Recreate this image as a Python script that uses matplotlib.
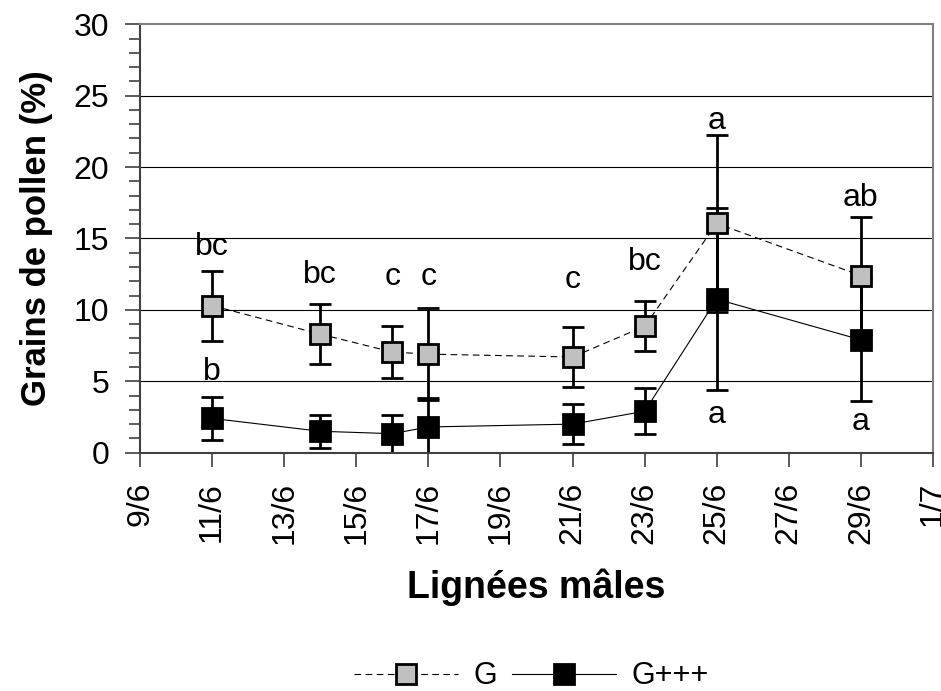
import pandas as pd
import numpy as np
import matplotlib
matplotlib.use('Agg')
import matplotlib.pyplot as plt
import matplotlib.dates as mdates
from matplotlib.ticker import MultipleLocator, FuncFormatter

plt.rcParams['font.family'] = ['Liberation Sans', 'DejaVu Sans']

# dates of the male lines (day/month)
dates = ['2003-06-11', '2003-06-14', '2003-06-16', '2003-06-17',
         '2003-06-21', '2003-06-23', '2003-06-25', '2003-06-29']
g_mean = [10.3, 8.3, 7.05, 6.9, 6.7, 8.85, 16.05, 12.4]
g_err = [2.45, 2.1, 1.8, 3.2, 2.1, 1.75, 6.2, 4.1]
gppp_mean = [2.4, 1.5, 1.33, 1.8, 2.0, 2.9, 10.75, 7.9]
gppp_err = [1.5, 1.15, 1.33, 2.0, 1.4, 1.6, 6.35, 4.3]

# significance letters
g_letters = ['bc', 'bc', 'c', 'c', 'c', 'bc', 'a', 'ab']
g_letter_y = [13.85, 11.85, 11.75, 11.75, 11.5, 12.8, 22.7, 17.3]
gppp_letters = ['b', '', '', '', '', '', 'a', 'a']
gppp_letter_y = [5.1, 0, 0, 0, 0, 0, 2.05, 1.6]

x_start = '2003-06-09'
x_end = '2003-07-01'

x = pd.to_datetime(dates)

fig = plt.figure(figsize=(9.41, 6.91), dpi=100)
ax = fig.add_axes([0.1488, 0.3449, 0.8427, 0.620])

# grid lines
for yv in [5, 10, 15, 20, 25]:
    ax.axhline(yv, color='black', lw=0.8, zorder=0)

ax.errorbar(x, g_mean, yerr=g_err, fmt='s', ls=(0, (6, 4)), color='black', lw=0.8,
            mfc='#c0c0c0', mec='black', mew=2, ms=14, ecolor='black',
            elinewidth=2, capsize=8, capthick=2, label='G', zorder=3)
ax.errorbar(x, gppp_mean, yerr=gppp_err, fmt='s', ls='-', color='black', lw=0.8,
            mfc='black', mec='black', mew=2, ms=14, ecolor='black',
            elinewidth=2, capsize=8, capthick=2, label='G+++', zorder=2)

for xi, t, yv in zip(x, g_letters, g_letter_y):
    ax.text(xi, yv, t, ha='center', va='baseline', fontsize=23)
for xi, t, yv in zip(x, gppp_letters, gppp_letter_y):
    if t:
        ax.text(xi, yv, t, ha='center', va='baseline', fontsize=23)

ax.set_ylim(0, 30)
ax.set_xlim(pd.Timestamp(x_start), pd.Timestamp(x_end))
ax.yaxis.set_major_locator(MultipleLocator(5))
ax.yaxis.set_minor_locator(MultipleLocator(1))
ax.xaxis.set_major_locator(mdates.DayLocator(bymonthday=[9, 11, 13, 15, 17, 19, 21, 23, 25, 27, 29, 1]))
ax.xaxis.set_major_formatter(FuncFormatter(
    lambda v, p: f"{mdates.num2date(v).day}/{mdates.num2date(v).month}"))

ax.tick_params(axis='y', which='major', direction='out', length=11, width=1.2,
               color='#404040', labelsize=23, pad=11)
ax.tick_params(axis='y', which='minor', direction='out', length=8, width=1.2, color='#404040')
ax.tick_params(axis='x', which='major', direction='out', length=10, width=1.2,
               color='#404040', labelsize=23, labelrotation=90, pad=11)

for s in ['top', 'right']:
    ax.spines[s].set_color('#808080')
    ax.spines[s].set_linewidth(1.5)
for s in ['left', 'bottom']:
    ax.spines[s].set_color('#404040')
    ax.spines[s].set_linewidth(1.5)

ax.set_ylabel('Grains de pollen (%)', fontsize=25, fontweight='bold', va='center')
ax.yaxis.set_label_coords(-0.131, 0.5)
ax.set_xlabel('Lignées mâles', fontsize=27, fontweight='bold', va='baseline')
ax.xaxis.set_label_coords(0.5, -0.339)

handles, labels = ax.get_legend_handles_labels()
handles = [h[0] for h in handles]
fig.legend(handles, labels, loc='center', bbox_to_anchor=(0.565, 0.021), ncol=2,
           frameon=False, fontsize=22, handlelength=3.4, handletextpad=0.5,
           columnspacing=0.5, borderpad=0, borderaxespad=0)

fig.savefig('out.png', dpi=100)
